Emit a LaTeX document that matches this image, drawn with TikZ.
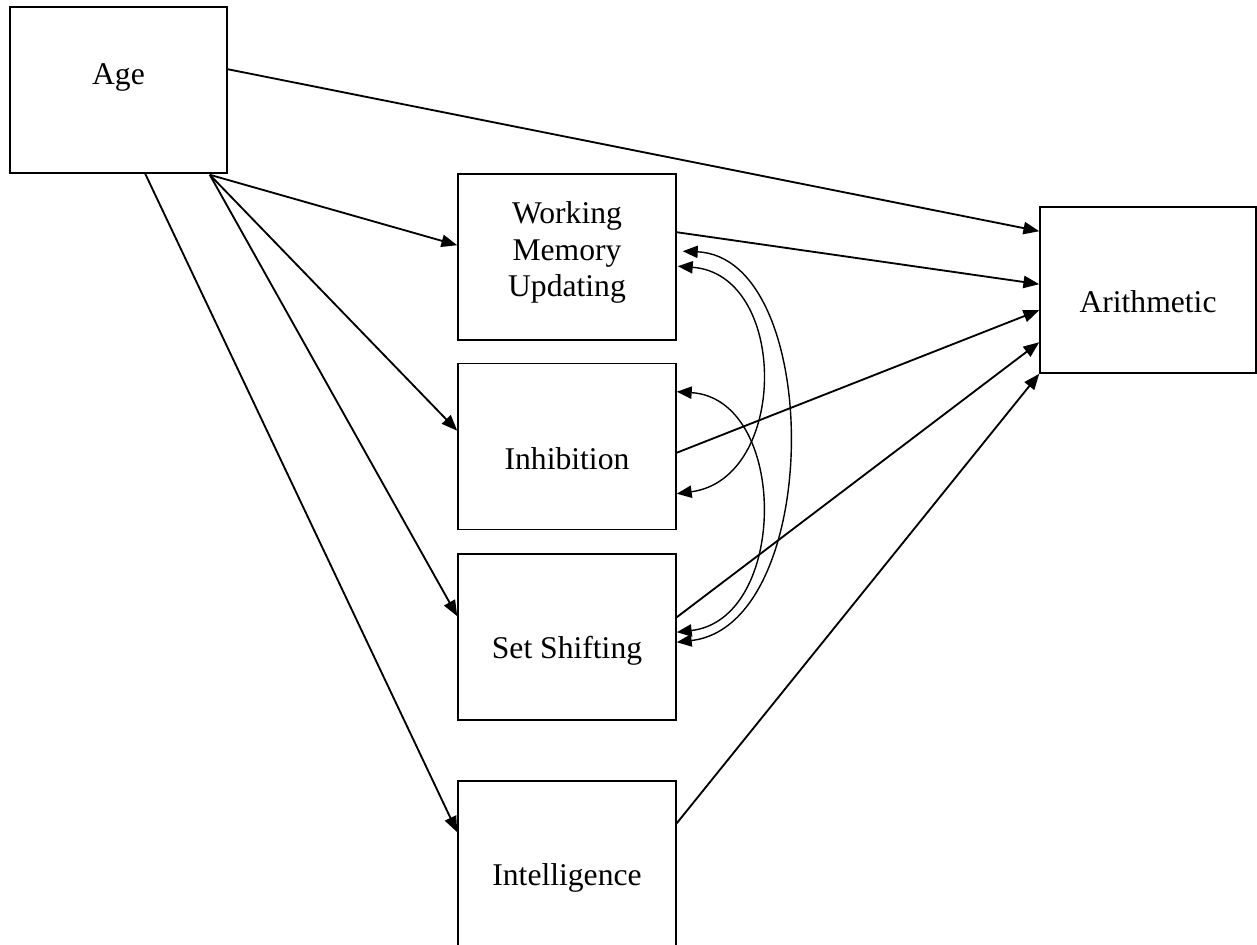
\documentclass[tikz,border=0pt]{standalone}
\usepackage{fontspec}
\setmainfont{Liberation Serif}
\usetikzlibrary{arrows.meta,calc}

\tikzset{
  box/.style={draw=black, line width=0.9pt, fill=none, inner sep=0pt,
              minimum width=4.36cm, minimum height=3.32cm},
  lbl/.style={anchor=base, inner sep=0pt, align=center,
              font=\fontsize{18pt}{21pt}\selectfont},
  flow/.style={draw=black, line width=1.05pt,
               -{Triangle[length=9pt,width=7pt]}},
  corr/.style={draw=black, line width=0.8pt,
               {Triangle[length=8.5pt,width=7pt]}-{Triangle[length=8.5pt,width=7pt]}},
}

\begin{document}
\begin{tikzpicture}[x=0.02cm, y=-0.02cm]
  \useasboundingbox (0,0) rectangle (1257,945);

  % boxes
  \node[box, minimum width=4.34cm] (age)   at (118.5,90)  {};
  \node[box] (wmu)   at (567,257)   {};
  \node[box] (inh)   at (567,446.5) {};
  \node[box] (ss)    at (567,637)   {};
  \node[box] (intel) at (567,864)   {};
  \node[box, minimum width=4.32cm] (arith) at (1148,290) {};

  % labels (multi-line label sits on the baseline of its last line)
  \node[lbl] (tage)   at (118.5,85) {Age};
  \node[lbl] (twmu)   at (567,297)  {Working\\Memory\\Updating};
  \node[lbl] (tinh)   at (567,470)  {Inhibition};
  \node[lbl] (tss)    at (567,658)  {Set Shifting};
  \node[lbl] (tintel) at (567,885)  {Intelligence};
  \node[lbl] (tarith) at (1148,313) {Arithmetic};

  % paths out of Age
  \draw[flow] ($(age.north east)+(0,63)$)   -- ($(arith.north west)+(0,25)$);
  \draw[flow] ($(age.south east)+(-18,1)$)  -- ($(wmu.north west)+(0,72)$);
  \draw[flow] ($(age.south east)+(-18,1)$)  -- ($(inh.north west)+(0,68)$);
  \draw[flow] ($(age.south east)+(-18,1)$)  -- ($(ss.north west)+(0,63)$);
  \draw[flow] ($(age.south west)+(136,0)$)  -- ($(intel.north west)+(0,52)$);

  % paths into Arithmetic
  \draw[flow] ($(wmu.north east)+(0,59)$)   -- ($(arith.north west)+(0,78)$);
  \draw[flow] ($(inh.north east)+(0,90)$)   -- ($(arith.north west)+(0,104)$);
  \draw[flow] ($(ss.north east)+(0,64)$)    -- ($(arith.north west)+(0,136)$);
  \draw[flow] ($(intel.north east)+(0,43)$) -- (arith.south west);

  % correlations among executive functions
  \draw[corr] ($(wmu.north east)+(6,78)$)
      .. controls +(141,6) and +(147,-17) .. ($(ss.north east)+(0,89)$);
  \draw[corr] ($(wmu.north east)+(1,93)$)
      .. controls +(111,8) and +(112,-15) .. ($(inh.north east)+(0,131)$);
  \draw[corr] ($(inh.north east)+(0,29)$)
      .. controls +(112,7) and +(112,-13) .. ($(ss.north east)+(0,79)$);
\end{tikzpicture}
\end{document}
